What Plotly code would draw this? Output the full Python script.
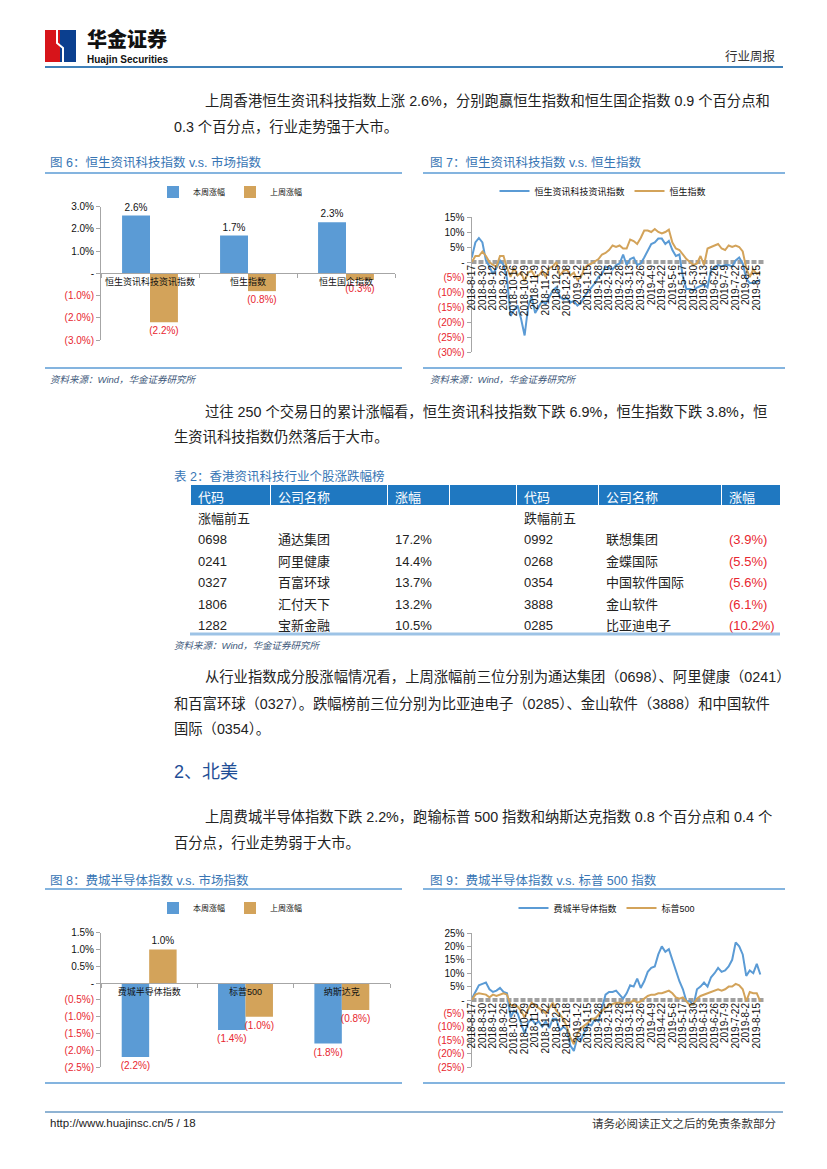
import plotly.graph_objects as go

# The page body has an 8px margin; the figure is sized to fit inside the window.
OFF = 8
W, H = 811, 1153


def X(p):
    return (p - OFF) / W


def Y(p):
    return 1 - (p - OFF) / H


BLUE = "#5B9BD5"
TAN = "#D3A35A"
RED = "#E8262F"
TITLE_BLUE = "#3775B4"
FRAME_BLUE = "#5B9BD5"
FONT = "Liberation Sans, Noto Sans CJK SC, sans-serif"

# ---------------- data ----------------
bar6_categories = ["恒生资讯科技资讯指数", "恒生指数", "恒生国企指数"]
bar6_this_week = [2.6, 1.7, 2.3]
bar6_last_week = [-2.2, -0.8, -0.3]
bar6_ticks = [3, 2, 1, 0, -1, -2, -3]

line_tick_labels = ["2018-8-17", "2018-8-30", "2018-9-12", "2018-9-26", "2018-10-16",
                    "2018-10-29", "2018-11-9", "2018-11-22", "2018-12-5", "2018-12-18",
                    "2019-1-2", "2019-1-15", "2019-1-28", "2019-2-15", "2019-2-28",
                    "2019-3-13", "2019-3-26", "2019-4-9", "2019-4-22", "2019-5-6",
                    "2019-5-17", "2019-5-30", "2019-6-13", "2019-6-26", "2019-7-9",
                    "2019-7-22", "2019-8-2", "2019-8-15"]
line_tick_days = list(range(0, 244, 9))
line_days = list(range(0, 247, 3))

hsit = [1.5, 6.5, 8.0, 6.5, 0.5, -1.5, -4.0, -2.0, 0.5, -1.0,
        -5.5, -18.0, -16.0, -14.5, -19.0, -24.5, -15.0, -11.5, -17.0, -15.0,
        -13.0, -14.0, -11.5, -9.5, -8.5, -11.5, -12.5, -12.0, -13.5, -13.0,
        -14.5, -13.5, -11.5, -10.0, -8.5, -7.0, -5.0, -4.0, -1.5, -2.0,
        -2.5, -1.0, -0.5, 2.5, -1.0, 1.0, 1.5, -1.0, -0.5, 1.5,
        4.0, 6.0, 6.5, 7.8, 7.8, 6.0, 7.0, 4.0, 2.0, 2.5,
        -5.0, -9.0, -9.0, -9.5, -8.5, -8.0, -7.5, -8.5, -2.5, -2.0,
        -1.0, -1.5, -1.0, -1.0, -1.5, 0.5, 1.5, -0.5, -5.5, -7.0,
        -7.0, -6.5, -6.0]
hsi = [0.0, 2.0, 2.0, 3.5, 2.0, 0.0, -1.0, -1.5, 2.0, 2.0,
       -2.0, -5.0, -2.0, -4.5, -3.5, -6.5, -3.5, -3.0, -5.0, -4.5,
       -3.0, -5.0, -2.0, -1.5, 0.0, -4.5, -3.0, -2.5, -4.5, -3.5,
       -6.0, -5.0, -2.0, -1.0, -0.5, 0.3, 1.0, 2.5, 3.0, 4.0,
       5.5, 5.0, 5.5, 4.5, 4.5, 7.5, 7.0, 6.0, 8.0, 10.5,
       10.5, 10.0, 11.0, 10.0, 9.5, 10.0, 10.8, 6.5, 4.5, 4.0,
       2.5, 1.0, 0.0, -1.0, -0.5, 2.0, -1.0, 4.5, 5.0, 5.5,
       6.0, 4.5, 4.0, 5.5, 5.0, 5.5, 5.0, 3.5, -2.0, -5.0,
       -2.5, -4.0, -3.5]
line7_ticks = [15, 10, 5, 0, -5, -10, -15, -20, -25, -30]

bar8_categories = ["费城半导体指数", "标普500", "纳斯达克"]
bar8_this_week = [-2.2, -1.4, -1.8]
bar8_last_week = [1.0, -1.0, -0.8]
bar8_ticks = [1.5, 1.0, 0.5, 0, -0.5, -1.0, -1.5, -2.0, -2.5]

sox = [0.5, 3.0, 5.5, 6.0, 6.5, 4.0, 3.0, 3.5, 4.5, 3.0,
       2.5, -6.5, -4.0, -5.0, -9.0, -12.5, -8.5, -7.0, -9.0, -8.0,
       -10.0, -8.0, -10.5, -7.0, -7.0, -11.5, -10.0, -11.0, -17.0, -19.0,
       -14.0, -15.0, -12.0, -9.0, -9.5, -7.0, -8.0, -3.0, 2.0, 3.0,
       3.0, 3.5, 2.0, 0.5, 2.5, 5.5, 5.0, 8.0, 4.5, 7.0,
       10.5, 12.0, 12.5, 17.0, 20.0, 18.0, 19.0, 15.0, 11.5, 7.0,
       4.0, -0.5, -0.5, -2.0, 4.0, 5.0, 6.5, 5.0, 8.5, 10.0,
       12.0, 10.5, 11.0, 12.5, 15.0, 21.5, 20.0, 17.0, 9.0, 11.0,
       10.0, 13.5, 9.5]
spx = [0.0, 2.0, 2.5, 2.3, 2.0, 1.0, 2.0, 1.5, 2.0, 2.5,
       2.0, -2.0, -2.0, -2.5, -4.0, -6.5, -3.5, -1.0, -2.0, -3.0,
       -4.0, -5.0, -3.0, -1.0, -4.0, -5.5, -7.0, -10.0, -14.0, -16.5,
       -12.5, -10.5, -9.5, -8.5, -7.0, -7.0, -5.5, -4.0, -3.0, -2.0,
       -1.5, -1.0, -1.0, -1.5, -1.0, -1.0, 0.0, -1.0, -0.5, 0.5,
       1.5, 2.0, 2.0, 2.5, 2.5, 3.0, 3.5, 2.5, 1.0, 0.5,
       1.0, -0.5, -2.0, -1.5, 0.5, 1.5, 2.0, 2.5, 3.0, 3.5,
       4.0, 3.5, 4.0, 5.0, 5.0, 6.0, 5.5, 4.0, -0.5, 3.0,
       2.5, 2.5, -0.5]
line9_ticks = [25, 20, 15, 10, 5, 0, -5, -10, -15, -20, -25]

table_header = ["代码", "公司名称", "涨幅", "", "代码", "公司名称", "涨幅"]
up_codes = ["0698", "0241", "0327", "1806", "1282"]
up_names = ["通达集团", "阿里健康", "百富环球", "汇付天下", "宝新金融"]
up_pct = [17.2, 14.4, 13.7, 13.2, 10.5]
down_codes = ["0992", "0268", "0354", "3888", "0285"]
down_names = ["联想集团", "金蝶国际", "中国软件国际", "金山软件", "比亚迪电子"]
down_pct = [-3.9, -5.5, -5.6, -6.1, -10.2]


# ---------------- helpers ----------------
def fmt(v, dec):
    if v > 0:
        return f"{v:.{dec}f}%"
    if v < 0:
        return f"({abs(v):.{dec}f}%)"
    return "-"


def tick_text(vals, dec):
    out = []
    for v in vals:
        s = fmt(v, dec)
        if v < 0:
            s = f'<span style="color:{RED}">{s}</span>'
        out.append(s)
    return out


def colors_for(vals):
    return [RED if v < 0 else "#111111" for v in vals]


def zero_pos(dom, rng):
    return dom[0] + (0 - rng[0]) / (rng[1] - rng[0]) * (dom[1] - dom[0])


fig = go.Figure()

# ---- Fig 6 bars ----
fig.add_trace(go.Bar(x=bar6_categories, y=bar6_this_week, name="本周涨幅", marker_color=BLUE,
                     text=[fmt(v, 1) for v in bar6_this_week], textposition="outside",
                     textfont=dict(size=10, color=colors_for(bar6_this_week)),
                     cliponaxis=False, constraintext="none", xaxis="x", yaxis="y", legend="legend"))
fig.add_trace(go.Bar(x=bar6_categories, y=bar6_last_week, name="上周涨幅", marker_color=TAN,
                     text=[fmt(v, 1) for v in bar6_last_week], textposition="outside",
                     textfont=dict(size=10, color=colors_for(bar6_last_week)),
                     cliponaxis=False, constraintext="none", xaxis="x", yaxis="y", legend="legend"))

# ---- Fig 7 lines ----
fig.add_trace(go.Scatter(x=line_days, y=hsit, mode="lines", name="恒生资讯科技资讯指数",
                         line=dict(color=BLUE, width=2), xaxis="x2", yaxis="y2", legend="legend2"))
fig.add_trace(go.Scatter(x=line_days, y=hsi, mode="lines", name="恒生指数",
                         line=dict(color=TAN, width=2), xaxis="x2", yaxis="y2", legend="legend2"))

# ---- Fig 8 bars ----
fig.add_trace(go.Bar(x=bar8_categories, y=bar8_this_week, name="本周涨幅", marker_color=BLUE,
                     text=[fmt(v, 1) for v in bar8_this_week], textposition="outside",
                     textfont=dict(size=10, color=colors_for(bar8_this_week)),
                     cliponaxis=False, constraintext="none", xaxis="x3", yaxis="y3", legend="legend3"))
fig.add_trace(go.Bar(x=bar8_categories, y=bar8_last_week, name="上周涨幅", marker_color=TAN,
                     text=[fmt(v, 1) for v in bar8_last_week], textposition="outside",
                     textfont=dict(size=10, color=colors_for(bar8_last_week)),
                     cliponaxis=False, constraintext="none", xaxis="x3", yaxis="y3", legend="legend3"))

# ---- Fig 9 lines ----
fig.add_trace(go.Scatter(x=line_days, y=sox, mode="lines", name="费城半导体指数",
                         line=dict(color=BLUE, width=2), xaxis="x4", yaxis="y4", legend="legend4"))
fig.add_trace(go.Scatter(x=line_days, y=spx, mode="lines", name="标普500",
                         line=dict(color=TAN, width=2), xaxis="x4", yaxis="y4", legend="legend4"))

# ---- Table 2 ----
col_default = "#222222"
cell_values = [
    ["涨幅前五"] + up_codes,
    [""] + up_names,
    [""] + [fmt(v, 1) for v in up_pct],
    [""] * 6,
    ["跌幅前五"] + down_codes,
    [""] + down_names,
    [""] + [fmt(v, 1) for v in down_pct],
]
cell_colors = [[col_default] * 6] * 6 + [[col_default] + colors_for(down_pct)]
fig.add_trace(go.Table(
    domain=dict(x=[X(190), X(780)], y=[Y(634), Y(484)]),
    columnwidth=[80, 117, 62, 67, 82, 123, 59],
    header=dict(values=table_header, fill_color="#1F78C1", align="left", height=21,
                font=dict(color="white", size=13, family=FONT),
                line=dict(color="white", width=1)),
    cells=dict(values=cell_values, fill_color="white", align="left", height=21.5,
               font=dict(color=cell_colors, size=13, family=FONT),
               line=dict(color="white", width=1)),
))

# ---------------- axes ----------------
axis_common = dict(showgrid=False, zeroline=False, automargin=False, fixedrange=True)
yaxis_common = dict(showline=True, linecolor="#A6A6A6", linewidth=1, ticks="outside",
                    ticklen=4, tickcolor="#A6A6A6", tickfont=dict(size=10, color="#111111"),
                    **axis_common)

dom6x, dom6y, rng6 = [X(101), X(395)], [Y(340), Y(206.7)], [-3, 3]
dom7x, dom7y, rng7 = [X(471.5), X(765)], [Y(352), Y(217)], [-30, 15]
dom8x, dom8y, rng8 = [X(101), X(390)], [Y(1067), Y(932.7)], [-2.5, 1.5]
dom9x, dom9y, rng9 = [X(471.5), X(765)], [Y(1067), Y(933)], [-25, 25]
xr_line = [-0.3, 250]

fig.update_layout(
    xaxis=dict(domain=dom6x, anchor="free", position=zero_pos(dom6y, rng6), type="category",
               showline=True, linecolor="#A6A6A6", ticks="outside", tickson="boundaries",
               ticklen=4, tickcolor="#A6A6A6", tickangle=0,
               tickfont=dict(size=9, color="#111111"), **axis_common),
    yaxis=dict(domain=dom6y, range=rng6, anchor="x", tickvals=bar6_ticks,
               ticktext=tick_text(bar6_ticks, 1), **yaxis_common),
    xaxis2=dict(domain=dom7x, range=xr_line, anchor="free", position=zero_pos(dom7y, rng7),
                tickvals=line_tick_days, ticktext=line_tick_labels, tickangle=-90,
                showline=False, ticks="", tickfont=dict(size=10, color="#111111"), **axis_common),
    yaxis2=dict(domain=dom7y, range=rng7, anchor="x2", tickvals=line7_ticks,
                ticktext=tick_text(line7_ticks, 0), **yaxis_common),
    xaxis3=dict(domain=dom8x, anchor="free", position=zero_pos(dom8y, rng8), type="category",
                showline=True, linecolor="#A6A6A6", ticks="outside", tickson="boundaries",
                ticklen=4, tickcolor="#A6A6A6", tickangle=0,
                tickfont=dict(size=9, color="#111111"), **axis_common),
    yaxis3=dict(domain=dom8y, range=rng8, anchor="x3", tickvals=bar8_ticks,
                ticktext=tick_text(bar8_ticks, 1), **yaxis_common),
    xaxis4=dict(domain=dom9x, range=xr_line, anchor="free", position=zero_pos(dom9y, rng9),
                tickvals=line_tick_days, ticktext=line_tick_labels, tickangle=-90,
                showline=False, ticks="", tickfont=dict(size=10, color="#111111"), **axis_common),
    yaxis4=dict(domain=dom9y, range=rng9, anchor="x4", tickvals=line9_ticks,
                ticktext=tick_text(line9_ticks, 0), **yaxis_common),
)

legend_common = dict(orientation="h", xanchor="center", yanchor="middle",
                     bgcolor="rgba(0,0,0,0)", itemclick=False, itemdoubleclick=False,
                     itemwidth=30, tracegroupgap=0)
fig.update_layout(
    legend=dict(x=X(230), y=Y(192), font=dict(size=8, color="#111111"), **legend_common),
    legend2=dict(x=X(603), y=Y(191), font=dict(size=9, color="#111111"), **legend_common),
    legend3=dict(x=X(230), y=Y(908), font=dict(size=8, color="#111111"), **legend_common),
    legend4=dict(x=X(607), y=Y(908), font=dict(size=9, color="#111111"), **legend_common),
)

# ---------------- shapes ----------------
shapes = []


def hline(x0, x1, y, color, width):
    shapes.append(dict(type="line", xref="paper", yref="paper", x0=X(x0), x1=X(x1),
                       y0=Y(y), y1=Y(y), line=dict(color=color, width=width)))


hline(45, 783, 67, "#3F80B8", 2)
hline(45, 402, 173, FRAME_BLUE, 1.5)
hline(423, 785, 173, FRAME_BLUE, 1.5)
hline(45, 402, 368, FRAME_BLUE, 1.5)
hline(423, 785, 368, FRAME_BLUE, 1.5)
hline(190, 780, 634, "#9DC3E6", 3)
hline(45, 402, 889, FRAME_BLUE, 1.5)
hline(423, 785, 889, FRAME_BLUE, 1.5)
hline(45, 402, 1083, FRAME_BLUE, 1.5)
hline(423, 785, 1083, FRAME_BLUE, 1.5)
hline(45, 783, 1112, "#6A9AC4", 1.5)

# zero reference lines of the line charts
for xr, yr in (("x2 domain", "y2"), ("x4 domain", "y4")):
    shapes.append(dict(type="line", xref=xr, yref=yr, x0=0, x1=1, y0=0, y1=0, layer="below",
                       line=dict(color="#A0A0A0", width=4, dash="5px,2px")))

# logo blocks
shapes.append(dict(type="rect", xref="paper", yref="paper", x0=X(45), x1=X(60), y0=Y(62), y1=Y(30),
                   fillcolor="#D7141A", line=dict(width=0)))
shapes.append(dict(type="rect", xref="paper", yref="paper", x0=X(60), x1=X(76), y0=Y(62), y1=Y(30),
                   fillcolor="#0B3F8F", line=dict(width=0)))
shapes.append(dict(type="path", xref="paper", yref="paper",
                   path=f"M {X(57)},{Y(30)} L {X(57)},{Y(43)} L {X(63)},{Y(48)} L {X(63)},{Y(62)}",
                   line=dict(color="white", width=2)))
fig.update_layout(shapes=shapes)

# ---------------- text ----------------
ann = []
BODY = 14.3


def txt(x, y, s, size=BODY, color="#222222", anchor="left", family=FONT, weight=None):
    f = dict(size=size, color=color, family=family)
    if weight:
        f["weight"] = weight
    ann.append(dict(x=X(x), y=Y(y), xref="paper", yref="paper", text=s, showarrow=False,
                    xanchor=anchor, yanchor="middle", font=f))


txt(85, 38.5, "华金证券", size=20, color="#111111", family="Noto Sans CJK SC", weight=900)
txt(85, 59.5, "Huajin Securities", size=10, color="#111111", weight=700)
txt(778, 57, "行业周报", size=12.5, color="#333333", anchor="right")

txt(203, 101, "上周香港恒生资讯科技指数上涨 2.6%，分别跑赢恒生指数和恒生国企指数 0.9 个百分点和")
txt(172, 127, "0.3 个百分点，行业走势强于大市。")

txt(48, 163, "图 6：恒生资讯科技指数 v.s. 市场指数", size=12.5, color=TITLE_BLUE)
txt(428, 163, "图 7：恒生资讯科技指数 v.s. 恒生指数", size=12.5, color=TITLE_BLUE)
txt(48, 379, "<i>资料来源：Wind，华金证券研究所</i>", size=9.5, color="#40587A")
txt(428, 379, "<i>资料来源：Wind，华金证券研究所</i>", size=9.5, color="#40587A")

txt(203, 411, "过往 250 个交易日的累计涨幅看，恒生资讯科技指数下跌 6.9%，恒生指数下跌 3.8%，恒")
txt(172, 437, "生资讯科技指数仍然落后于大市。")

txt(172, 476, "表 2：香港资讯科技行业个股涨跌幅榜", size=12.5, color=TITLE_BLUE)
txt(172, 645, "<i>资料来源：Wind，华金证券研究所</i>", size=9.5, color="#40587A")

txt(203, 677, "从行业指数成分股涨幅情况看，上周涨幅前三位分别为通达集团（0698）、阿里健康（0241）")
txt(172, 703, "和百富环球（0327）。跌幅榜前三位分别为比亚迪电子（0285）、金山软件（3888）和中国软件")
txt(172, 729, "国际（0354）。")

txt(172, 772, "2、北美", size=18, color="#1F4E96")

txt(203, 817, "上周费城半导体指数下跌 2.2%，跑输标普 500 指数和纳斯达克指数 0.8 个百分点和 0.4 个")
txt(172, 843, "百分点，行业走势弱于大市。")

txt(48, 880, "图 8：费城半导体指数 v.s. 市场指数", size=12.5, color=TITLE_BLUE)
txt(428, 880, "图 9：费城半导体指数 v.s. 标普 500 指数", size=12.5, color=TITLE_BLUE)

txt(48, 1123, "http://www.huajinsc.cn/5 / 18", size=11.5, color="#222222")
txt(778, 1123, "请务必阅读正文之后的免责条款部分", size=11.5, color="#333333", anchor="right")

fig.update_layout(annotations=ann)

fig.update_layout(
    template="none",
    width=W, height=H,
    margin=dict(l=0, r=0, t=0, b=0, pad=0),
    paper_bgcolor="white", plot_bgcolor="white",
    font=dict(family=FONT, color="#222222"),
    barmode="group", bargap=0.43, bargroupgap=0,
    showlegend=True,
)

fig.write_html("out.html")
